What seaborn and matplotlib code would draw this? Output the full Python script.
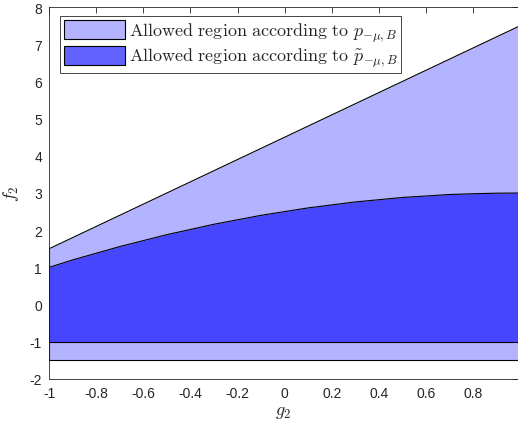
import numpy as np
import seaborn as sns
import matplotlib.pyplot as plt
from matplotlib.patches import Patch

# boundary of the region allowed by p_{-mu,B}
g_outer = [-1.0, 1.0]
f_outer_top = [1.5, 7.5]
f_outer_bottom = [-1.5, -1.5]

# boundary of the region allowed by p~_{-mu,B}
g_inner = [-1.0, -0.9, -0.8, -0.7, -0.6, -0.5, -0.4, -0.3, -0.2, -0.1, 0.0,
           0.1, 0.2, 0.3, 0.4, 0.5, 0.6, 0.7, 0.8, 0.9, 1.0]
f_inner_top = [1.0, 1.2, 1.38, 1.56, 1.72, 1.88, 2.02, 2.16, 2.28, 2.4, 2.5,
               2.6, 2.68, 2.76, 2.82, 2.88, 2.92, 2.96, 2.98, 2.995, 3.0]
f_inner_bottom = [-1.0] * len(g_inner)

light = "#b3b3ff"
dark = "#4646ff"

if __name__ == '__main__':
    sns.set_style("white")
    plt.rcParams['font.family'] = ['Liberation Sans', 'DejaVu Sans']
    plt.rcParams['mathtext.fontset'] = 'cm'
    plt.rcParams['axes.unicode_minus'] = False

    fig = plt.figure(figsize=(5.18, 4.27), dpi=100)
    ax = fig.add_axes([49 / 518, (427 - 380) / 427, 469 / 518, 372 / 427])

    ax.fill_between(g_outer, f_outer_bottom, f_outer_top, color=light, lw=0)
    ax.fill_between(g_inner, f_inner_bottom, f_inner_top, color=dark, lw=0)

    sns.lineplot(x=g_outer, y=f_outer_top, ax=ax, color="black", lw=0.8)
    sns.lineplot(x=g_outer, y=f_outer_bottom, ax=ax, color="black", lw=0.8)
    sns.lineplot(x=g_inner, y=f_inner_top, ax=ax, color="black", lw=0.8)
    sns.lineplot(x=g_inner, y=f_inner_bottom, ax=ax, color="black", lw=0.8)
    ax.plot([-1, -1], [-1.5, 1.5], color="black", lw=0.8)

    ax.set_xlim(-1, 0.99)
    ax.set_ylim(-2, 8)
    ax.set_xticks(np.round(np.arange(-1, 0.81, 0.2), 1))
    ax.set_xticklabels(["-1", "-0.8", "-0.6", "-0.4", "-0.2", "0", "0.2", "0.4", "0.6", "0.8"])
    ax.set_yticks(range(-2, 9))
    ax.tick_params(direction="in", length=4, width=0.6, top=True, right=True,
                   labelsize=10, colors="#262626", pad=5)
    for s in ax.spines.values():
        s.set_color("#262626")
        s.set_linewidth(0.6)

    ax.set_xlabel(r"$g_2$", fontsize=13, labelpad=2)
    ax.set_ylabel(r"$f_2$", fontsize=13, labelpad=6)

    handles = [
        Patch(facecolor=light, edgecolor="black", lw=0.8),
        Patch(facecolor="#6262ff", edgecolor="black", lw=0.8),
    ]
    labels = [
        r"$\mathrm{Allowed\ region\ according\ to\ }p_{-\mu,B}$",
        r"$\mathrm{Allowed\ region\ according\ to\ }\tilde{p}_{-\mu,B}$",
    ]
    ax.legend(handles, labels, loc="upper left", bbox_to_anchor=(0.024, 0.975),
              fontsize=13, frameon=True, fancybox=False, framealpha=1,
              edgecolor="#262626", handlelength=3.4, handleheight=1.25,
              handletextpad=0.2, borderpad=0.2, labelspacing=0.12,
              borderaxespad=0.0)
    ax.get_legend().get_frame().set_linewidth(0.6)

    fig.savefig("out.png", dpi=100)
